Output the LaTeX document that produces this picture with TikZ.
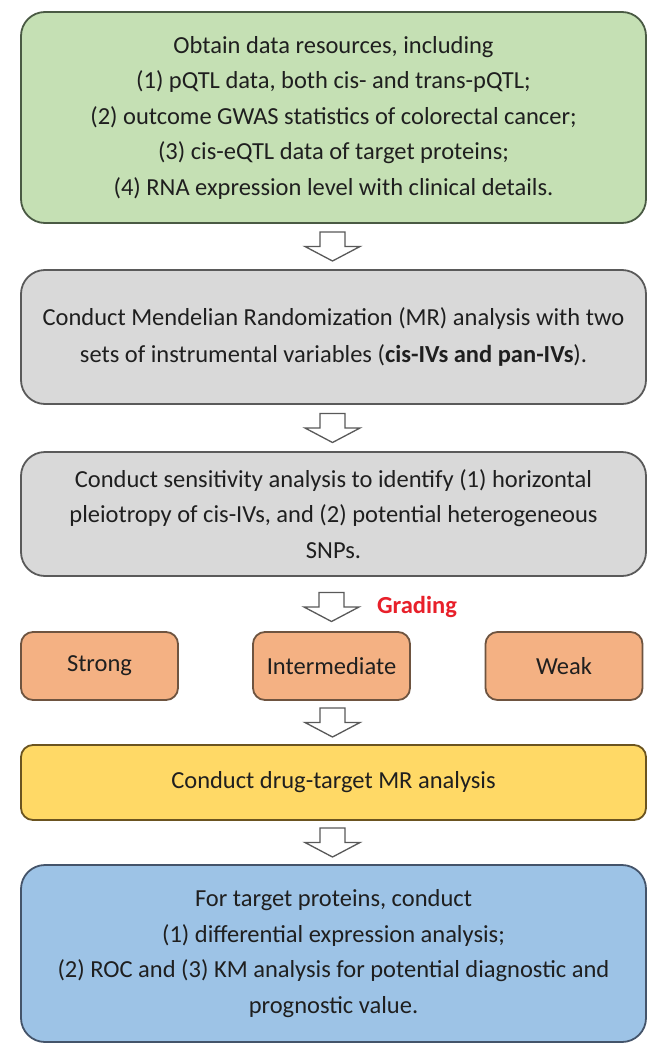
\documentclass[tikz,border=0pt]{standalone}
\usepackage{fontspec}
\setmainfont{Carlito}
\usetikzlibrary{calc}
\definecolor{txt}{HTML}{1F1F1F}
\definecolor{gfill}{HTML}{C5E0B4}
\definecolor{gdraw}{HTML}{4A5A44}
\definecolor{grfill}{HTML}{D9D9D9}
\definecolor{grdraw}{HTML}{5A5A5A}
\definecolor{ofill}{HTML}{F4B183}
\definecolor{odraw}{HTML}{6E5440}
\definecolor{yfill}{HTML}{FFD966}
\definecolor{ydraw}{HTML}{6B5420}
\definecolor{bfill}{HTML}{9DC3E6}
\definecolor{bdraw}{HTML}{44546A}
\definecolor{gradred}{HTML}{E8202A}
\tikzset{
  box/.style={draw, line width=1.8pt, rounded corners=24pt, align=center, text=txt,
    font=\fontsize{24.5}{35.5}\selectfont, inner sep=0pt, minimum width=625pt},
  smallbox/.style={draw=odraw, fill=ofill, line width=1.8pt, rounded corners=12pt, text=txt,
    font=\fontsize{24.5}{28}\selectfont, inner sep=0pt, minimum width=157pt, minimum height=68pt},
  blockarr/.pic={\draw[line width=1.3pt, draw=black!65, fill=white, line join=miter]
    (-12.5,14.5) -- (12.5,14.5) -- (12.5,0) -- (27.5,0) -- (0,-14.5) -- (-27.5,0) -- (-12.5,0) -- cycle;}
}
\begin{document}
\begin{tikzpicture}[x=1pt,y=1pt]
\path[use as bounding box, fill=white] (0,0) rectangle (661,-1057);
\node[box, draw=gdraw, fill=gfill, minimum height=211pt] (b1) at (333.5,-117.5)
 {Obtain data resources, including\\(1) pQTL data, both cis- and trans-pQTL;\\(2) outcome GWAS statistics of colorectal cancer;\\(3) cis-eQTL data of target proteins;\\(4) RNA expression level with clinical details.};
\node[box, draw=grdraw, fill=grfill, minimum height=134pt, font=\fontsize{24.5}{37.5}\selectfont] (b2) at (333.5,-337)
 {Conduct Mendelian Randomization (MR) analysis with two\\sets of instrumental variables (\textbf{cis-IVs and pan-IVs}).};
\node[box, draw=grdraw, fill=grfill, minimum height=124pt] (b3) at (333.5,-514)
 {Conduct sensitivity analysis to identify (1) horizontal\\pleiotropy of cis-IVs, and (2) potential heterogeneous\\SNPs.};
\node[smallbox] (s1) at (99.5,-666) {Strong};
\node[smallbox] (s2) at (331.5,-666) {Intermediate};
\node[smallbox] (s3) at (564,-666) {Weak};
\node[box, draw=ydraw, fill=yfill, minimum height=75pt, rounded corners=12pt] (b4) at (333.5,-782.5)
 {Conduct drug-target MR analysis};
\node[box, draw=bdraw, fill=bfill, minimum height=177pt] (b5) at (333.5,-953.5)
 {For target proteins, conduct\\(1) differential expression analysis;\\(2) ROC and (3) KM analysis for potential diagnostic and\\prognostic value.};
\coordinate (a1) at ($(b1.south)!0.5!(b2.north)+(-1,0)$);
\coordinate (a2) at ($(b2.south)!0.5!(b3.north)+(-1,0)$);
\coordinate (a3) at ($(b3.south)!0.5!(s2.north)+(-1,-3)$);
\coordinate (a4) at ($(s2.south)!0.5!(b4.north)$);
\coordinate (a5) at ($(b4.south)!0.5!(b5.north)+(-1,0)$);
\foreach \c in {a1,a2,a3,a4,a5} \pic at (\c) {blockarr};
\node[text=gradred, font=\fontsize{24.5}{28}\selectfont\bfseries, anchor=west] (grading) at ($(a3)+(42,0)$) {Grading};
\end{tikzpicture}
\end{document}
